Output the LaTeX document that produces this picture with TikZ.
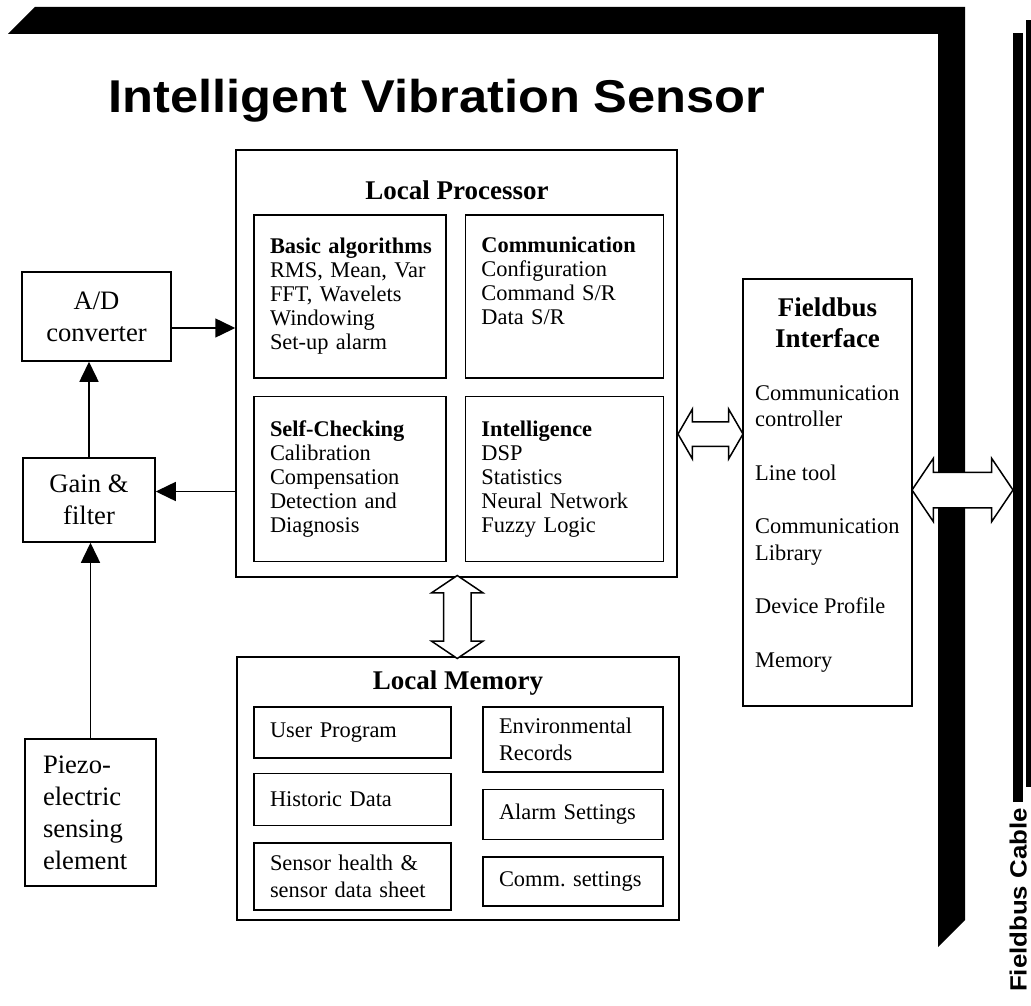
\documentclass[tikz,border=0pt]{standalone}
\usepackage{fontspec}
\setmainfont{Liberation Serif}
\newfontfamily\headsans[FakeStretch=1.1]{Liberation Sans}
\usetikzlibrary{arrows.meta,shapes.arrows,positioning,calc}

\begin{document}
\begin{tikzpicture}[x=1pt,y=-1pt,
		box/.style={draw,line width=1.5,inner sep=0},
		sub/.style={draw,line width=1.4,inner xsep=16,inner ysep=0,align=left,
			font=\fontsize{22.4}{24}\selectfont},
		mem/.style={draw,line width=1.4,inner xsep=16,inner ysep=0,align=left,
			font=\fontsize{22.4}{27}\selectfont},
		side/.style={draw,line width=1.5,inner sep=0,align=center,
			font=\fontsize{26.6}{32}\selectfont},
		head/.style={align=center,font=\bfseries\fontsize{27}{31}\selectfont},
		sig/.style={line width=1.5,-{Triangle[length=20pt,width=19pt]}},
		twoway/.style={double arrow,draw,fill=white,line width=1.5,inner sep=0}]
	\useasboundingbox (0,0) rectangle (1031,1006);
	% bus frame and cable
	\fill (8,34) -- (35,7) -- (965,7) -- (965,920) -- (938,947) -- (938,34) -- cycle;
	\fill (1013,33) rectangle (1023,802);
	\fill (1026,20) rectangle (1036,787);
	\node[rotate=90,anchor=base,inner sep=0,font=\headsans\bfseries\fontsize{23.5}{25}\selectfont] (cablelbl) at (1026.5,900) {Fieldbus Cable};
	\node[anchor=base,font=\headsans\bfseries\fontsize{46}{46}\selectfont] (title) at (437,113) {Intelligent Vibration Sensor};
	% local processor
	\node[box,minimum width=441,minimum height=427] (lp) at (456.5,363.5) {};
	\node[head] (lptitle) at (457,190) {Local Processor};
	\node[sub,text width=160,minimum height=163] (basic) at (350,296.5)
		{\mbox{\textbf{Basic algorithms}}\\RMS, Mean, Var\\FFT, Wavelets\\Windowing\\Set-up alarm};
	\node[sub,text width=166,minimum height=163,right=18pt of basic] (comm)
		{\textbf{Communication}\\Configuration\\Command S/R\\Data S/R\\\strut};
	\node[sub,text width=160,minimum height=165,below=17pt of basic] (selfchk)
		{\textbf{Self-Checking}\\Calibration\\Compensation\\Detection and\\Diagnosis};
	\node[sub,text width=166,minimum height=165,below=17pt of comm] (intel)
		{\textbf{Intelligence}\\DSP\\Statistics\\Neural Network\\Fuzzy Logic};
	% local memory
	\node[box,minimum width=442,minimum height=263] (lm) at (458,788.5) {};
	\node[head] (lmtitle) at (458,683) {Local Memory};
	\node[mem,text width=165,minimum height=51] (userprog) at (352.5,732.5) {User Program};
	\node[mem,text width=165,minimum height=52,below=14pt of userprog] (historic) {Historic Data};
	\node[mem,text width=165,minimum height=67,below=16pt of historic] (health) {Sensor health \&\\sensor data sheet};
	\node[mem,text width=148,minimum height=65] (environ) at (573,739.5) {Environmental\\Records};
	\node[mem,text width=148,minimum height=50,below=16pt of environ] (alarm) {Alarm Settings};
	\node[mem,text width=148,minimum height=49,below=16pt of alarm] (commset) {Comm.~settings};
	% sensing chain
	\node[side,minimum width=149,minimum height=89] (adc) at (96.5,316.5) {A/D\\converter};
	\node[side,minimum width=132,minimum height=84] (gain) at (89,500) {Gain \&\\filter};
	\node[side,align=left,text width=95,inner xsep=18,minimum height=147] (piezo) at (90.5,812.5)
		{Piezo-\\electric\\sensing\\element};
	\draw[sig] (piezo.north) -- (gain.south -| piezo.north);
	\draw[sig] (gain.north) -- (adc.south -| gain.north);
	\draw[sig] ([yshift=-11.5pt]adc.east) -- ([yshift=-11.5pt]adc.east -| lp.west);
	\draw[sig] ([yshift=8.5pt]gain.east -| lp.west) -- ([yshift=8.5pt]gain.east);
	% fieldbus interface
	\node[box,minimum width=169,minimum height=427] (fbi) at (827.5,492.5) {};
	\node[head] (fbititle) at (827.5,322.5) {Fieldbus\\Interface};
	\node[anchor=north west,align=left,inner sep=0,font=\fontsize{22.4}{26.7}\selectfont] (fbilist) at (755,385)
		{Communication\\controller\\[26.7pt]Line tool\\[26.7pt]Communication\\Library\\[26.7pt]Device Profile\\[26.7pt]Memory};
	% two-way links
	\node[twoway,minimum height=65,inner ysep=11.5,double arrow head extend=12.5,double arrow tip angle=120] (procfbi) at (710.5,434) {};
	\node[twoway,rotate=90,minimum height=83,inner ysep=13,double arrow head extend=12,double arrow tip angle=112] (procmem) at ($(lp.south)!0.5!(lm.north)$) {};
	\node[twoway,minimum height=101,inner ysep=17,double arrow head extend=14,double arrow tip angle=112] (fbicable) at (962.5,490) {};
\end{tikzpicture}
\end{document}
